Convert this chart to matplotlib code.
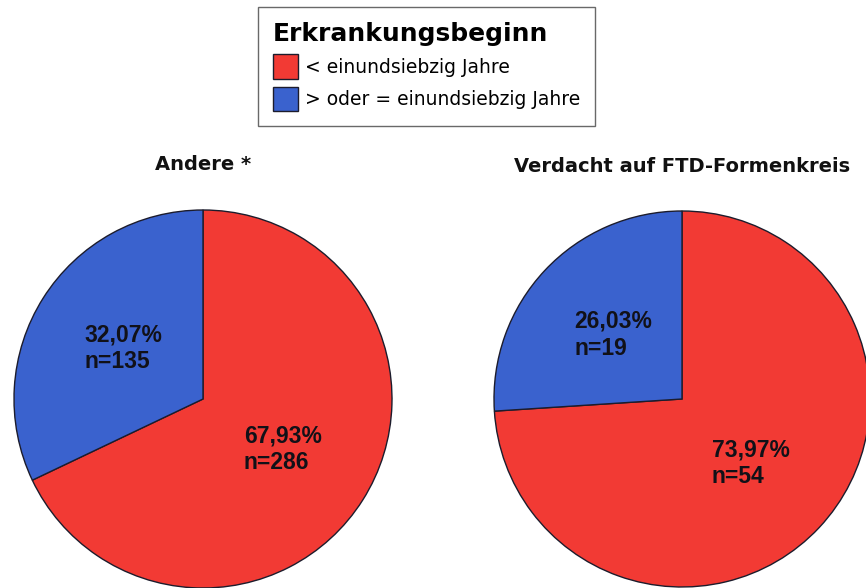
import numpy as np
import matplotlib
matplotlib.use("Agg")
import matplotlib.pyplot as plt

# data
legend_title = "Erkrankungsbeginn"
categories = ["< einundsiebzig Jahre", "> oder = einundsiebzig Jahre"]
groups = ["Andere *", "Verdacht auf FTD-Formenkreis"]
counts_andere = [286, 135]
counts_ftd = [54, 19]

colors = ["#F23A34", "#3A62CE"]
edge = "#1c1c2c"

fig = plt.figure(figsize=(8.66, 5.88), dpi=100)
ax = fig.add_axes([0, 0, 1, 1])


def make_autopct(counts):
    total = sum(counts)

    def fmt(p):
        n = int(round(p * total / 100.0))
        return "{:.2f}%".format(p).replace(".", ",") + "\nn={}".format(n)
    return fmt


# pie positions in figure pixels (y up)
centers = [(203, 189), (682, 189)]
radii = [189, 188]

wedges_all = []
for counts, title, c, r in zip([counts_andere, counts_ftd], groups, centers, radii):
    wedges, texts, autotexts = ax.pie(
        counts, colors=colors, startangle=90, counterclock=False,
        center=c, radius=r, autopct=make_autopct(counts), pctdistance=0.5,
        wedgeprops=dict(edgecolor=edge, linewidth=1.0),
        textprops=dict(fontsize=16.5, fontweight="bold", color="#111118",
                       family="Liberation Sans"))
    for t in autotexts:
        t.set_multialignment("left")
        t.set_linespacing(1.2)
    wedges_all.append(wedges)
    ax.text(c[0], c[1] + r + 45, title, ha="center", va="center",
            fontsize=14, fontweight="bold", color="#111111")

ax.set_xlim(0, 866)
ax.set_ylim(0, 588)
ax.set_aspect("equal")
ax.axis("off")

leg = fig.legend(wedges_all[0], categories, title=legend_title,
                 loc="upper left", bbox_to_anchor=(258 / 866, 1 - 7 / 588),
                 borderaxespad=0, fancybox=False, frameon=True,
                 prop=dict(size=13.5), title_fontproperties=dict(size=18, weight="bold"),
                 alignment="left", handlelength=1.35, handleheight=1.6,
                 handletextpad=0.35, labelspacing=0.45, borderpad=0.8)
leg.get_frame().set_edgecolor("#444444")
leg.get_frame().set_linewidth(1.0)

fig.savefig("out.png", dpi=100)
